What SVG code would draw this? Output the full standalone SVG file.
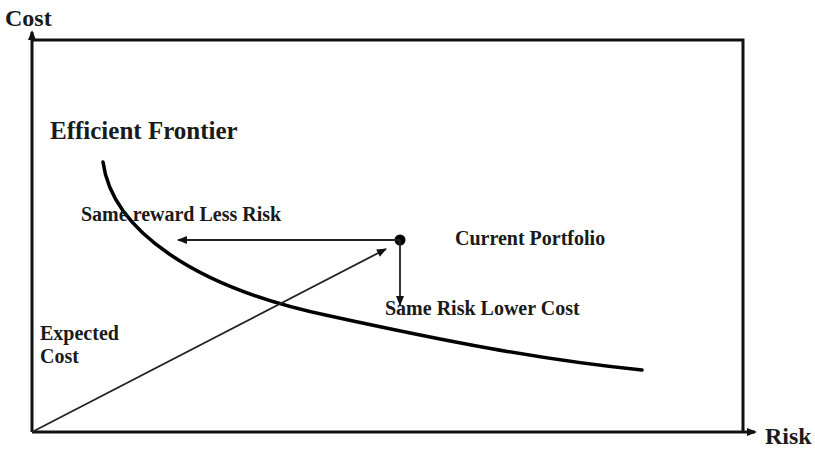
<svg xmlns="http://www.w3.org/2000/svg" width="815" height="450" viewBox="0 0 815 450">
<style>
text{font-family:"Liberation Serif","Times New Roman",serif;font-weight:bold;fill:#1a1a1a}
.big{font-size:24px}
.ef{font-size:25px}
.lbl{font-size:20px}
.frame{fill:none;stroke:#111;stroke-width:3}
.thin{fill:none;stroke:#222;stroke-width:1.8}
.curve{fill:none;stroke:#000;stroke-width:3.5;stroke-linecap:round}
</style>
<defs>
<marker id="ah" viewBox="0 0 10 10" refX="8" refY="5" markerWidth="10" markerHeight="10" markerUnits="userSpaceOnUse" orient="auto">
<path d="M0,1 L10,5 L0,9 z" fill="#111"/>
</marker>
<marker id="ahs" viewBox="0 0 10 10" refX="9" refY="5" markerWidth="12" markerHeight="10" markerUnits="userSpaceOnUse" orient="auto">
<path d="M0,1 L10,5 L0,9 z" fill="#111"/>
</marker>
</defs>
<g id="axes">
<path class="frame" d="M32,40 H743 V432"/>
<line class="frame" x1="32" y1="432" x2="32" y2="32" marker-end="url(#ah)"/>
<line class="frame" x1="32" y1="432" x2="755" y2="432" marker-end="url(#ah)"/>
<text class="big" x="5" y="26">Cost</text>
<text class="big" x="765" y="444">Risk</text>
</g>
<g id="efficient-frontier">
<path class="curve" d="M103,162 C112,230 195,288 330,316 C440,340 540,360 642,370"/>
<text class="ef" x="50" y="139">Efficient Frontier</text>
</g>
<g id="current-portfolio">
<circle cx="400" cy="240" r="5.5" fill="#000"/>
<text class="lbl" x="455" y="245">Current Portfolio</text>
</g>
<g id="labels">
<text class="lbl" x="81" y="221">Same reward Less Risk</text>
<text class="lbl" x="385" y="315">Same Risk Lower Cost</text>
<text class="lbl" x="40" y="340">Expected</text>
<text class="lbl" x="40" y="363">Cost</text>
</g>
<g id="connectors">
<line class="thin" x1="400" y1="240" x2="178" y2="240" marker-end="url(#ahs)"/>
<line class="thin" x1="400" y1="240" x2="400" y2="305" marker-end="url(#ahs)"/>
<line class="thin" x1="32" y1="432" x2="386" y2="249" marker-end="url(#ahs)"/>
</g>
</svg>
